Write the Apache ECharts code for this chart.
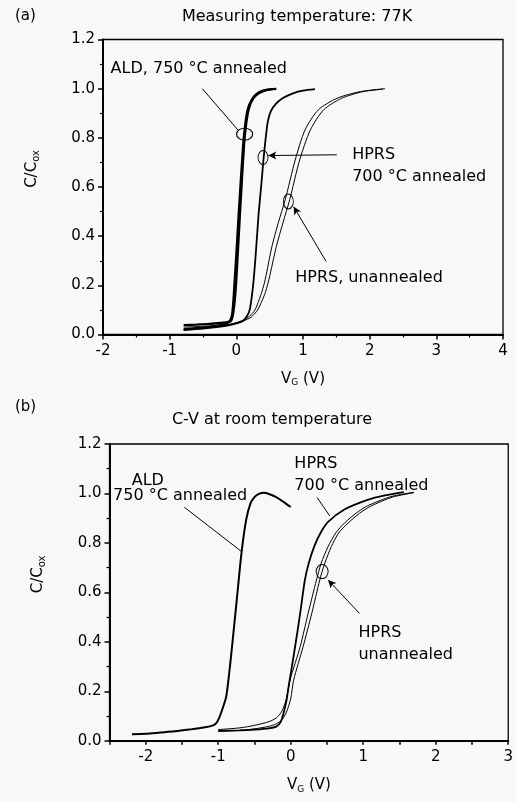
<!DOCTYPE html>
<html><head><meta charset="utf-8">
<script src="https://cdn.jsdelivr.net/npm/echarts@6/dist/echarts.min.js"></script>
<style>html,body{margin:0;padding:0;background:#f8f8f8}#c{width:516px;height:802px}</style>
</head><body><div id="c"></div>
<script>
// ---------------- DATA ----------------
// Panel (a): measuring temperature 77K, [V_G (V), C/Cox]
const a_ald_1 = [[-0.79,0.038],[-0.6,0.040],[-0.4,0.043],[-0.2,0.048],[-0.1,0.055],[-0.06,0.09],[-0.025,0.22],[0.035,0.49],[0.10,0.765],[0.135,0.86],[0.175,0.92],[0.23,0.955],[0.30,0.978],[0.40,0.992],[0.53,0.998]];
const a_ald_2 = [[-0.79,0.022],[-0.5,0.028],[-0.3,0.035],[-0.15,0.045],[-0.07,0.06],[-0.03,0.12],[0.0,0.22],[0.055,0.49],[0.115,0.765],[0.15,0.86],[0.19,0.92],[0.25,0.958],[0.33,0.98],[0.45,0.994],[0.60,0.999]];
const a_hprs700 = [[-0.79,0.018],[-0.5,0.024],[-0.3,0.03],[-0.1,0.038],[0.0,0.045],[0.1,0.055],[0.16,0.075],[0.2,0.10],[0.23,0.15],[0.26,0.222],[0.30,0.36],[0.335,0.494],[0.375,0.61],[0.41,0.72],[0.445,0.81],[0.475,0.87],[0.52,0.91],[0.6,0.94],[0.7,0.962],[0.86,0.982],[1.0,0.992],[1.18,0.998]];
const a_unann_1 = [[-0.79,0.02],[-0.4,0.028],[-0.1,0.04],[0.1,0.058],[0.2,0.075],[0.28,0.10],[0.34,0.14],[0.385,0.175],[0.434,0.225],[0.534,0.358],[0.63,0.455],[0.733,0.548],[0.883,0.71],[1.03,0.832],[1.23,0.914],[1.51,0.961],[1.86,0.988],[2.23,1.0]];
const a_unann_2 = [[-0.79,0.03],[-0.4,0.035],[-0.1,0.042],[0.1,0.055],[0.22,0.07],[0.32,0.10],[0.39,0.14],[0.44,0.175],[0.49,0.225],[0.60,0.358],[0.70,0.455],[0.80,0.548],[0.95,0.71],[1.11,0.832],[1.31,0.914],[1.58,0.961],[1.9,0.988],[2.2,0.998]];

// Panel (b): C-V at room temperature
const b_ald = [[-2.19,0.026],[-2.0,0.028],[-1.8,0.033],[-1.6,0.038],[-1.4,0.045],[-1.2,0.053],[-1.08,0.061],[-1.03,0.07],[-0.99,0.09],[-0.94,0.13],[-0.89,0.178],[-0.85,0.27],[-0.81,0.38],[-0.74,0.583],[-0.68,0.758],[-0.615,0.893],[-0.555,0.96],[-0.5,0.985],[-0.44,0.998],[-0.37,1.003],[-0.3,0.998],[-0.2,0.985],[-0.1,0.966],[0.0,0.945]];
const b_hprs700 = [[-1.0,0.04],[-0.7,0.042],[-0.5,0.045],[-0.3,0.05],[-0.2,0.057],[-0.14,0.075],[-0.1,0.11],[-0.06,0.16],[-0.03,0.218],[0.06,0.38],[0.13,0.515],[0.195,0.65],[0.25,0.72],[0.33,0.79],[0.42,0.845],[0.515,0.885],[0.74,0.935],[1.06,0.974],[1.3,0.992],[1.56,1.005]];
const b_unann_1 = [[-1.0,0.045],[-0.7,0.052],[-0.5,0.062],[-0.3,0.077],[-0.2,0.092],[-0.12,0.12],[-0.06,0.17],[-0.01,0.245],[0.13,0.38],[0.24,0.515],[0.355,0.65],[0.42,0.718],[0.515,0.785],[0.62,0.84],[0.74,0.88],[0.9,0.92],[1.06,0.95],[1.38,0.987],[1.7,1.005]];
const b_unann_2 = [[-1.0,0.038],[-0.7,0.042],[-0.5,0.048],[-0.3,0.058],[-0.2,0.068],[-0.12,0.085],[-0.06,0.115],[0.0,0.17],[0.04,0.245],[0.17,0.38],[0.29,0.515],[0.40,0.65],[0.47,0.718],[0.56,0.785],[0.66,0.84],[0.79,0.88],[0.95,0.92],[1.1,0.948],[1.4,0.985],[1.7,1.003]];

// Axis ticks
const a_xTicks = [-2, -1, 0, 1, 2, 3, 4];
const b_xTicks = [-2, -1, 0, 1, 2, 3];
const yTicks = [0.0, 0.2, 0.4, 0.6, 0.8, 1.0, 1.2];

// ---------------- ANNOTATIONS (data coordinates) ----------------
const a_texts = [[-1.886, 1.08, 'ALD, 750 °C annealed'], [1.737, 0.687, 'HPRS\n700 °C annealed'], [0.883, 0.229, 'HPRS, unannealed']];
const a_arrows = [[-0.51, 1.0, 0.03, 0.83, 0], [1.507, 0.731, 0.48, 0.728, 1], [1.347, 0.297, 0.86, 0.52, 1]];
const a_rings = [[0.124, 0.815], [0.40, 0.72], [0.78, 0.541]];
const a_ringSize = [[16, 12], [10, 14], [10, 15]];

const b_texts = [[-2.194, 1.05, 'ALD'], [-2.45, 0.991, '750 °C annealed'], [0.05, 1.076, 'HPRS\n700 °C annealed'], [0.934, 0.392, 'HPRS\nunannealed']];
const b_arrows = [[-1.467, 0.944, -0.678, 0.765, 0], [0.365, 0.983, 0.538, 0.909, 0], [0.948, 0.515, 0.515, 0.65, 1]];
const b_rings = [[0.433, 0.684]];
const b_ringSize = [[12, 14]];

// ---------------- CHART ----------------
const FONT = 'DejaVu Sans';
const INK = '#000';
const chart = echarts.init(document.getElementById('c'), null, {renderer: 'canvas'});

function yAxis(gi) {
  return {
    type: 'value', gridIndex: gi, min: yTicks[0], max: yTicks[yTicks.length - 1], interval: 0.2,
    name: '{a|C/C}{b|ox}', nameLocation: 'middle', nameGap: 62, nameRotate: 90,
    nameTextStyle: {color: INK, padding: [0, 0, 0, 36], rich: {a: {fontFamily: FONT, fontSize: 15, color: INK}, b: {fontFamily: FONT, fontSize: 10, color: INK, verticalAlign: 'bottom', padding: [8, 0, 0, 0]}}},
    axisLine: {show: true, onZero: false, lineStyle: {color: INK, width: 2}},
    axisTick: {show: true, length: 5, lineStyle: {color: INK, width: 1.5}},
    minorTick: {show: true, splitNumber: 2, length: 3, lineStyle: {color: INK, width: 1.2}},
    splitLine: {show: false},
    axisLabel: {color: INK, fontFamily: FONT, fontSize: 15, margin: 8, formatter: v => v.toFixed(1)}
  };
}
const xName = '{a|V}{b|G}{a| (V)}';
const xNameStyle = {color: INK, rich: {a: {fontFamily: FONT, fontSize: 15, color: INK}, b: {fontFamily: FONT, fontSize: 9, color: INK, verticalAlign: 'bottom', padding: [8, 0, 0, 0]}}};

function lineSeries(data, xi, w) {
  return {type: 'line', xAxisIndex: xi, yAxisIndex: xi, data: data, showSymbol: false, smooth: 0.25,
    lineStyle: {color: INK, width: w}, silent: true, z: 3};
}
function textSeries(texts, xi) {
  return {type: 'scatter', xAxisIndex: xi, yAxisIndex: xi, symbolSize: 0, silent: true, z: 5,
    itemStyle: {opacity: 1},
    data: texts.map(t => ({value: [t[0], t[1]], name: t[2]})),
    label: {show: true, position: 'right', distance: 0, formatter: p => p.name, color: INK, opacity: 1, fontFamily: FONT, fontSize: 16, lineHeight: 22, align: 'left', textBorderWidth: 0}};
}
function ringSeries(rings, sizes, xi, arrows) {
  return {type: 'scatter', xAxisIndex: xi, yAxisIndex: xi, silent: true, z: 6, symbol: 'circle',
    data: rings.map((r, i) => ({value: r, symbolSize: sizes[i]})),
    itemStyle: {color: 'rgba(0,0,0,0)', borderColor: INK, borderWidth: 1, opacity: 1},
    markLine: {silent: true, animation: false, label: {show: false}, lineStyle: {color: INK, width: 1, type: 'solid', opacity: 1},
      symbolSize: [6, 8],
      data: arrows.map(a => [{coord: [a[0], a[1]], symbol: 'none'}, {coord: [a[2], a[3]], symbol: a[4] ? 'arrow' : 'none'}])}
  };
}

const option = {
  backgroundColor: '#f8f8f8',
  animation: false,
  graphic: [
    {type: 'text', left: 15, top: 9, style: {text: '(a)', font: '15px ' + FONT, fill: INK}},
    {type: 'text', x: 297, y: 17, style: {text: 'Measuring temperature: 77K', font: '16px ' + FONT, fill: INK, textAlign: 'center', textVerticalAlign: 'middle'}},
    {type: 'text', left: 15, top: 400, style: {text: '(b)', font: '15px ' + FONT, fill: INK}},
    {type: 'text', x: 272, y: 420, style: {text: 'C-V at room temperature', font: '16px ' + FONT, fill: INK, textAlign: 'center', textVerticalAlign: 'middle'}}
  ],
  grid: [
    {left: 103, top: 39.5, width: 400, height: 295, show: true, borderColor: INK, borderWidth: 1.3, backgroundColor: 'transparent'},
    {left: 109.5, top: 444, width: 402, height: 296.7, show: true, borderColor: INK, borderWidth: 1.3, backgroundColor: 'transparent'}
  ],
  xAxis: [
    {type: 'value', gridIndex: 0, min: a_xTicks[0], max: a_xTicks[a_xTicks.length - 1], interval: 1,
      name: xName, nameLocation: 'middle', nameGap: 36, nameTextStyle: xNameStyle,
      axisLine: {show: true, onZero: false, lineStyle: {color: INK, width: 2}},
      axisTick: {show: true, length: 5, lineStyle: {color: INK, width: 1.5}},
      minorTick: {show: true, splitNumber: 2, length: 3, lineStyle: {color: INK, width: 1.2}},
      splitLine: {show: false},
      axisLabel: {color: INK, fontFamily: FONT, fontSize: 15, margin: 9, showMaxLabel: true, showMinLabel: true, formatter: v => String(v)}},
    {type: 'value', gridIndex: 1, min: -2.5, max: b_xTicks[b_xTicks.length - 1], interval: 0.5,
      name: xName, nameLocation: 'middle', nameGap: 36, nameTextStyle: xNameStyle,
      axisLine: {show: true, onZero: false, lineStyle: {color: INK, width: 2}},
      axisTick: {show: true, length: 4, lineStyle: {color: INK, width: 1.5}},
      splitLine: {show: false},
      axisLabel: {color: INK, fontFamily: FONT, fontSize: 15, margin: 9, showMaxLabel: true, hideOverlap: false,
        formatter: v => (b_xTicks.some(t => Math.abs(t - v) < 1e-9) ? String(Math.round(v)) : '')}}
  ],
  yAxis: [yAxis(0), yAxis(1)],
  series: [
    lineSeries(a_unann_1, 0, 1), lineSeries(a_unann_2, 0, 1),
    lineSeries(a_hprs700, 0, 1.8),
    lineSeries(a_ald_1, 0, 2.2), lineSeries(a_ald_2, 0, 2.2),
    textSeries(a_texts, 0), ringSeries(a_rings, a_ringSize, 0, a_arrows),
    lineSeries(b_unann_1, 1, 1), lineSeries(b_unann_2, 1, 1),
    lineSeries(b_hprs700, 1, 1.8), lineSeries(b_ald, 1, 2),
    textSeries(b_texts, 1), ringSeries(b_rings, b_ringSize, 1, b_arrows)
  ]
};
chart.setOption(option);
</script></body></html>
